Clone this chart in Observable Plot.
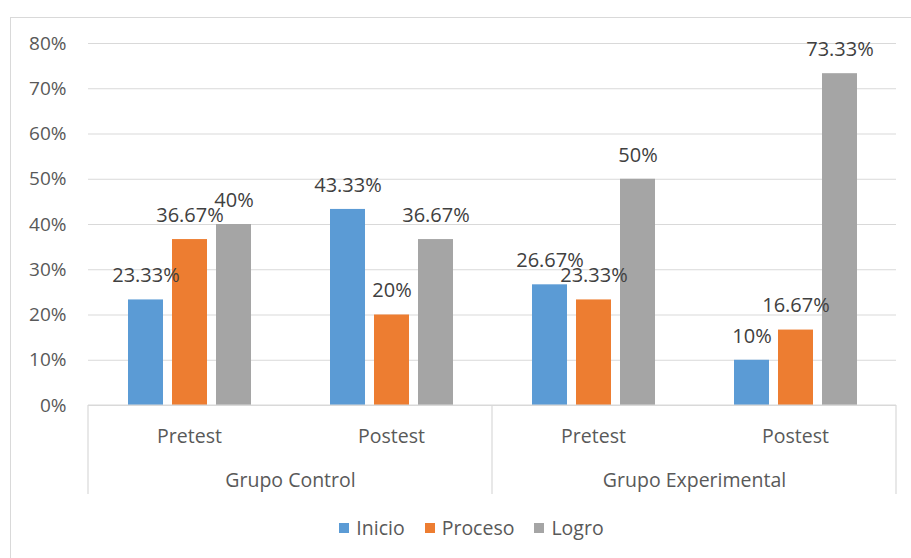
<!DOCTYPE html>
<html>
<head>
<meta charset="utf-8">
<script src="https://cdn.jsdelivr.net/npm/d3@7"></script>
<script src="https://cdn.jsdelivr.net/npm/@observablehq/plot@0.6"></script>
<style>
  html, body { margin: 0; padding: 0; background: #fff; overflow: hidden; }
  #frame {
    position: absolute; left: 10px; top: 17px; width: 1000px; height: 700px;
    border: 1px solid #D9D9D9; box-sizing: border-box;
  }
  #chart { position: absolute; left: 0; top: 0; }
  #legend { position: absolute; left: 16px; top: 514px; width: 911px; display: flex; justify-content: center; }
  #legend .item { display: flex; align-items: center; margin: 0 10px; font: 19.5px "Open Sans", sans-serif; color: #595959; }
  #legend .sw { width: 10px; height: 10px; margin-right: 7px; }
</style>
</head>
<body>
<div id="frame"></div>
<div id="chart"></div>
<div id="legend"></div>
<script>
// Level distribution (percent of students) by group and test phase
const groups = ["Grupo Control", "Grupo Experimental"];
const phases = ["Pretest", "Postest"];
const series = ["Inicio", "Proceso", "Logro"];
const colors = ["#5B9BD5", "#ED7D31", "#A5A5A5"];

// values in category order: Control-Pretest, Control-Postest, Experimental-Pretest, Experimental-Postest
const inicio  = [23.33, 43.33, 26.67, 10];
const proceso = [36.67, 20, 23.33, 16.67];
const logro   = [40, 36.67, 50, 73.33];
const yTicks = [0, 10, 20, 30, 40, 50, 60, 70, 80];

const categories = groups.flatMap(g => phases.map(p => ({group: g, phase: p, key: `${g}|${p}`})));
const seriesValues = [inicio, proceso, logro];
const rows = categories.flatMap((c, i) =>
  series.map((s, j) => ({...c, series: s, value: seriesValues[j][i]})));

const font = '"Open Sans", sans-serif';
const textColor = "#595959";
const pct = v => `${v}%`;

const plot = Plot.plot({
  width: 911,
  height: 500,
  marginLeft: 87,
  marginRight: 15,
  marginTop: 43,
  marginBottom: 95,
  style: {fontFamily: font, fontSize: "19px", color: textColor, background: "transparent"},
  fx: {domain: categories.map(c => c.key), padding: 0, axis: null},
  x: {domain: series, paddingInner: 0.213, paddingOuter: 0.86, axis: null},
  y: {domain: [0, 80], axis: null},
  color: {domain: series, range: colors},
  marks: [
    Plot.gridY(yTicks, {stroke: "#D9D9D9", strokeOpacity: 1, strokeWidth: 1.2}),
    Plot.axisY(yTicks, {tickSize: 0, tickPadding: 22, tickFormat: pct, fontSize: 19, fill: textColor, label: null}),
    Plot.barY(rows, {fx: "key", x: "series", y: "value", fill: "series"}),
    Plot.text(rows, {
      fx: "key", x: "series", y: "value", text: d => pct(d.value),
      dy: -24, fontSize: 20, fill: "#404040", lineAnchor: "middle"
    }),
    // phase labels under each cluster
    Plot.text(categories, {
      fx: "key", text: "phase", frameAnchor: "bottom", dy: 31,
      lineAnchor: "middle", fontSize: 19.5, fill: textColor
    }),
    // group labels centred on the boundary between their two phases
    Plot.text(categories.filter(c => c.phase === phases[0]), {
      fx: "key", text: "group", frameAnchor: "bottom-right", dy: 75,
      textAnchor: "middle", lineAnchor: "middle", fontSize: 19.5, fill: textColor
    })
  ]
});
document.getElementById("chart").append(plot);

// category-axis frame: baseline and vertical separators between groups
const fx = plot.scale("fx");
const yS = plot.scale("y");
const svg = d3.select(plot);
const base = yS.apply(0);
const left = fx.apply(categories[0].key);
const right = fx.apply(categories[categories.length - 1].key) + fx.bandwidth;
const bounds = groups.map(g => fx.apply(`${g}|${phases[0]}`)).concat([right]);
const axisG = svg.append("g").attr("stroke", "#D9D9D9").attr("stroke-width", 1.2);
axisG.append("line").attr("x1", left).attr("x2", right).attr("y1", base).attr("y2", base);
bounds.forEach(bx => {
  axisG.append("line").attr("x1", bx).attr("x2", bx).attr("y1", base).attr("y2", base + 89);
});

// legend below the chart
const legend = d3.select("#legend");
series.forEach((s, i) => {
  const item = legend.append("div").attr("class", "item");
  item.append("div").attr("class", "sw").style("background", colors[i]);
  item.append("span").text(s);
});
</script>
</body>
</html>
